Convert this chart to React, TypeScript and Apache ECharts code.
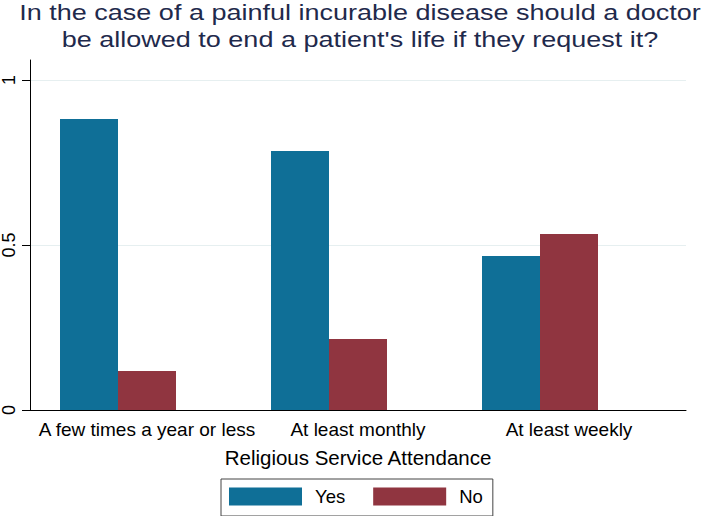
import React, { useEffect, useRef } from "react";
import * as echarts from "echarts";

const categories = ["A few times a year or less", "At least monthly", "At least weekly"];
const yesValues = [0.882, 0.785, 0.467];
const noValues = [0.118, 0.215, 0.533];
const yTickValues = [0, 0.5, 1];
const titleLines = [
  "In the case of a painful incurable disease should a doctor",
  "be allowed to end a patient's life if they request it?",
];
const xTitle = "Religious Service Attendance";

const FONT = "'Liberation Sans', Arial, Helvetica, sans-serif";
const YES_COLOR = "#0f6f97";
const NO_COLOR = "#903540";
const TITLE_COLOR = "#1f2a4c";

export default function App() {
  const ref = useRef<HTMLDivElement>(null);

  useEffect(() => {
    if (!ref.current) return;
    const chart = echarts.init(ref.current, undefined, { renderer: "svg" });
    const toPairs = (vals: (number | null)[]) => vals.map((v, i) => [i + 1, v]);

    chart.setOption({
      animation: false,
      backgroundColor: "#ffffff",
      textStyle: { fontFamily: FONT },
      grid: { left: 30, right: 19, top: 60, bottom: 106, containLabel: false },
      graphic: titleLines.map((t, i) => ({
        type: "text",
        x: 360,
        y: 11.7 + i * 27.5,
        scaleX: 1.19,
        scaleY: 1,
        style: {
          text: t,
          fill: TITLE_COLOR,
          font: `22.7px ${FONT}`,
          textAlign: "center",
          textVerticalAlign: "middle",
        },
      })),
      legend: {
        data: ["Yes", "No"],
        left: 221,
        top: 479,
        orient: "horizontal",
        itemWidth: 73,
        itemHeight: 18,
        itemGap: 28,
        padding: [8, 10, 10, 8],
        borderColor: "#444444",
        borderWidth: 1,
        borderRadius: 0,
        icon: "rect",
        selectedMode: false,
        textStyle: { fontSize: 18.5, color: "#000000", fontFamily: FONT, padding: [0, 0, 0, 8] },
      },
      xAxis: {
        type: "value",
        min: 1 - 117 / 211,
        max: 3 + 117 / 211,
        name: xTitle,
        nameLocation: "middle",
        nameGap: 37,
        nameTextStyle: { fontSize: 20.5, color: "#000000", fontFamily: FONT },
        axisLine: { show: true, onZero: false, lineStyle: { color: "#000000", width: 1 } },
        axisTick: { show: false },
        splitLine: { show: false },
        axisLabel: {
          customValues: categories.map((_, i) => i + 1),
          formatter: (v: number) => categories[Math.round(v) - 1] ?? "",
          fontSize: 19,
          color: "#000000",
          margin: 10,
          fontFamily: FONT,
        },
      },
      yAxis: {
        type: "value",
        min: 0,
        max: 350 / 330,
        axisLine: { show: true, onZero: false, lineStyle: { color: "#000000", width: 1 } },
        axisTick: {
          show: true,
          customValues: yTickValues,
          length: 8,
          lineStyle: { color: "#000000", width: 1 },
        },
        axisLabel: {
          customValues: yTickValues,
          rotate: 90,
          fontSize: 18,
          color: "#000000",
          margin: 12,
          fontFamily: FONT,
          formatter: (v: number) => String(v),
        },
        splitLine: {
          show: true,
          lineStyle: { color: ["rgba(0,0,0,0)", "#e6eff0", "#e6eff0"], width: 1 },
        },
      },
      series: [
        {
          name: "Yes",
          type: "bar",
          data: toPairs(yesValues),
          barWidth: 58,
          barGap: "0%",
          itemStyle: { color: YES_COLOR },
        },
        {
          name: "No",
          type: "bar",
          data: toPairs(noValues),
          barWidth: 58,
          barGap: "0%",
          itemStyle: { color: NO_COLOR },
        },
        {
          name: "",
          type: "bar",
          data: toPairs(categories.map(() => null)),
          barWidth: 58,
          barGap: "0%",
          itemStyle: { color: "rgba(0,0,0,0)" },
        },
      ],
    });

    return () => chart.dispose();
  }, []);

  return (
    <div
      ref={ref}
      style={{ position: "fixed", left: 0, top: 0, width: 705, height: 516, background: "#fff" }}
    />
  );
}
